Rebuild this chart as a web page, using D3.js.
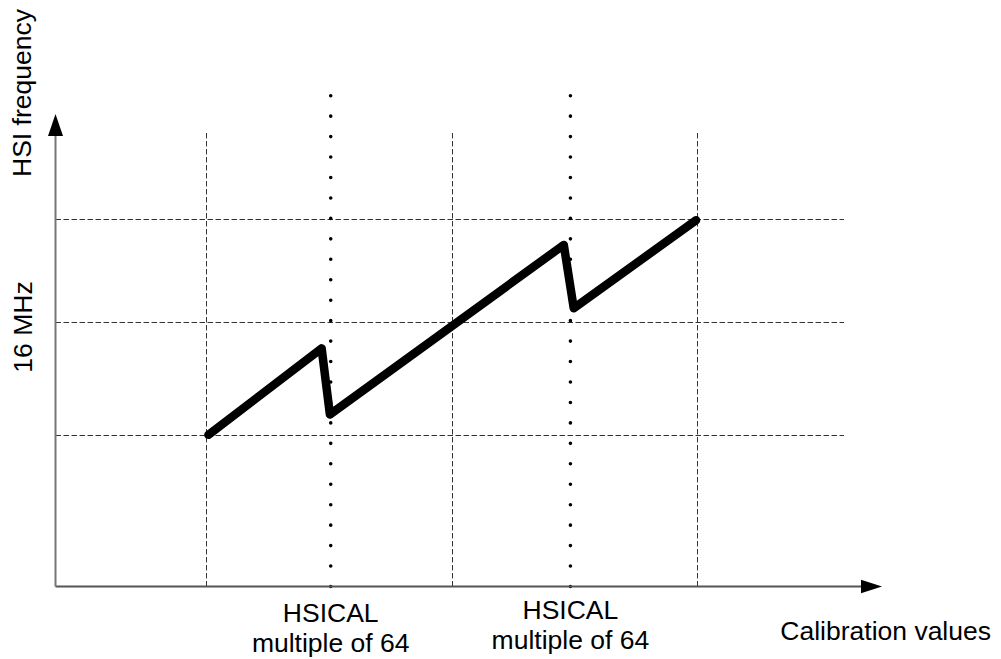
<!DOCTYPE html>
<html>
<head>
<meta charset="utf-8">
<script src="https://cdn.jsdelivr.net/npm/d3@7"></script>
<style>
  body { margin: 0; background: #fff; }
  svg text { font-family: "Liberation Sans", Arial, sans-serif; font-size: 26.5px; fill: #000; }
</style>
</head>
<body>
<svg class="canvas"></svg>
<script>
// calibration value (0-100 along the axis) and frequency (0-100 up the axis)
const curveX = [18.5, 32.2, 33.2, 61.5, 62.7, 77.5];
const curveY = [32.1, 50.4, 36.4, 72.3, 58.9, 77.5];

const gridX = [18.2, 48.0, 77.6];
const gridY = [32.1, 56.0, 77.8];
const hsicalX = [33.3, 62.3];

const hsicalLines = ['HSICAL', 'multiple of 64'];
const yLabel = 'HSI frequency';
const yTickLabel = '16 MHz';
const xLabel = 'Calibration values';

const w = 1001;
const h = 659;

const svg = d3.select('svg.canvas')
    .attr('width', w)
    .attr('height', h);

const xScale = d3.scaleLinear().domain([0, 100]).range([55.5, 882]);
const yScale = d3.scaleLinear().domain([0, 100]).range([586.5, 114]);

// snap thin lines to the pixel grid
const crisp = v => Math.round(v) + 0.5;

// dashed grid
svg.selectAll('line.grid-h')
    .data(gridY)
    .enter()
    .append('line')
    .attr('class', 'grid-h')
    .attr('x1', xScale(0))
    .attr('x2', 844)
    .attr('y1', d => crisp(yScale(d)))
    .attr('y2', d => crisp(yScale(d)))
    .attr('stroke', '#333')
    .attr('stroke-width', 1)
    .attr('stroke-dasharray', '5.5 2.5');

svg.selectAll('line.grid-v')
    .data(gridX)
    .enter()
    .append('line')
    .attr('class', 'grid-v')
    .attr('x1', d => crisp(xScale(d)))
    .attr('x2', d => crisp(xScale(d)))
    .attr('y1', yScale(0))
    .attr('y2', 133)
    .attr('stroke', '#333')
    .attr('stroke-width', 1)
    .attr('stroke-dasharray', '5.5 2.5');

// dotted HSICAL lines
svg.selectAll('line.hsical')
    .data(hsicalX)
    .enter()
    .append('line')
    .attr('class', 'hsical')
    .attr('x1', d => xScale(d))
    .attr('x2', d => xScale(d))
    .attr('y1', yScale(0))
    .attr('y2', 94)
    .attr('stroke', '#000')
    .attr('stroke-width', 3.6)
    .attr('stroke-linecap', 'round')
    .attr('stroke-dasharray', '0 20.45');

// axes
const x0 = xScale(0);
const y0 = yScale(0);
const xEnd = xScale.range()[1];
const yEnd = yScale.range()[1];

svg.append('line')
    .attr('x1', x0).attr('y1', y0)
    .attr('x2', xEnd - 18).attr('y2', y0)
    .attr('stroke', '#555')
    .attr('stroke-width', 1.8);

svg.append('line')
    .attr('x1', x0).attr('y1', y0)
    .attr('x2', x0).attr('y2', yEnd + 18)
    .attr('stroke', '#777')
    .attr('stroke-width', 2);

svg.append('path')
    .attr('d', `M${xEnd},${y0} L${xEnd - 21},${y0 - 6.8} L${xEnd - 21},${y0 + 6.8} Z`)
    .attr('fill', '#000');

svg.append('path')
    .attr('d', `M${x0},${yEnd} L${x0 - 7.5},${yEnd + 22} L${x0 + 7.5},${yEnd + 22} Z`)
    .attr('fill', '#000');

// frequency curve
const points = curveX.map((x, i) => [x, curveY[i]]);

const line = d3.line()
    .x(d => xScale(d[0]))
    .y(d => yScale(d[1]));

svg.append('path')
    .datum(points)
    .attr('d', line)
    .attr('fill', 'none')
    .attr('stroke', '#000')
    .attr('stroke-width', 8.5)
    .attr('stroke-linejoin', 'round')
    .attr('stroke-linecap', 'round');

// labels
const baseShift = [0, -3];
hsicalX.forEach((d, i) => {
    const t = svg.append('text')
        .attr('text-anchor', 'middle')
        .attr('x', xScale(d))
        .attr('y', 622 + baseShift[i]);
    hsicalLines.forEach((s, j) => {
        t.append('tspan')
            .attr('x', xScale(d))
            .attr('dy', j === 0 ? 0 : 30)
            .text(s);
    });
});

svg.append('text')
    .attr('text-anchor', 'end')
    .attr('x', 991)
    .attr('y', 640)
    .text(xLabel);

svg.append('text')
    .attr('text-anchor', 'middle')
    .attr('transform', 'translate(31, 93) rotate(-90)')
    .text(yLabel);

svg.append('text')
    .attr('text-anchor', 'middle')
    .attr('transform', 'translate(32, 327) rotate(-90)')
    .text(yTickLabel);
</script>
</body>
</html>
